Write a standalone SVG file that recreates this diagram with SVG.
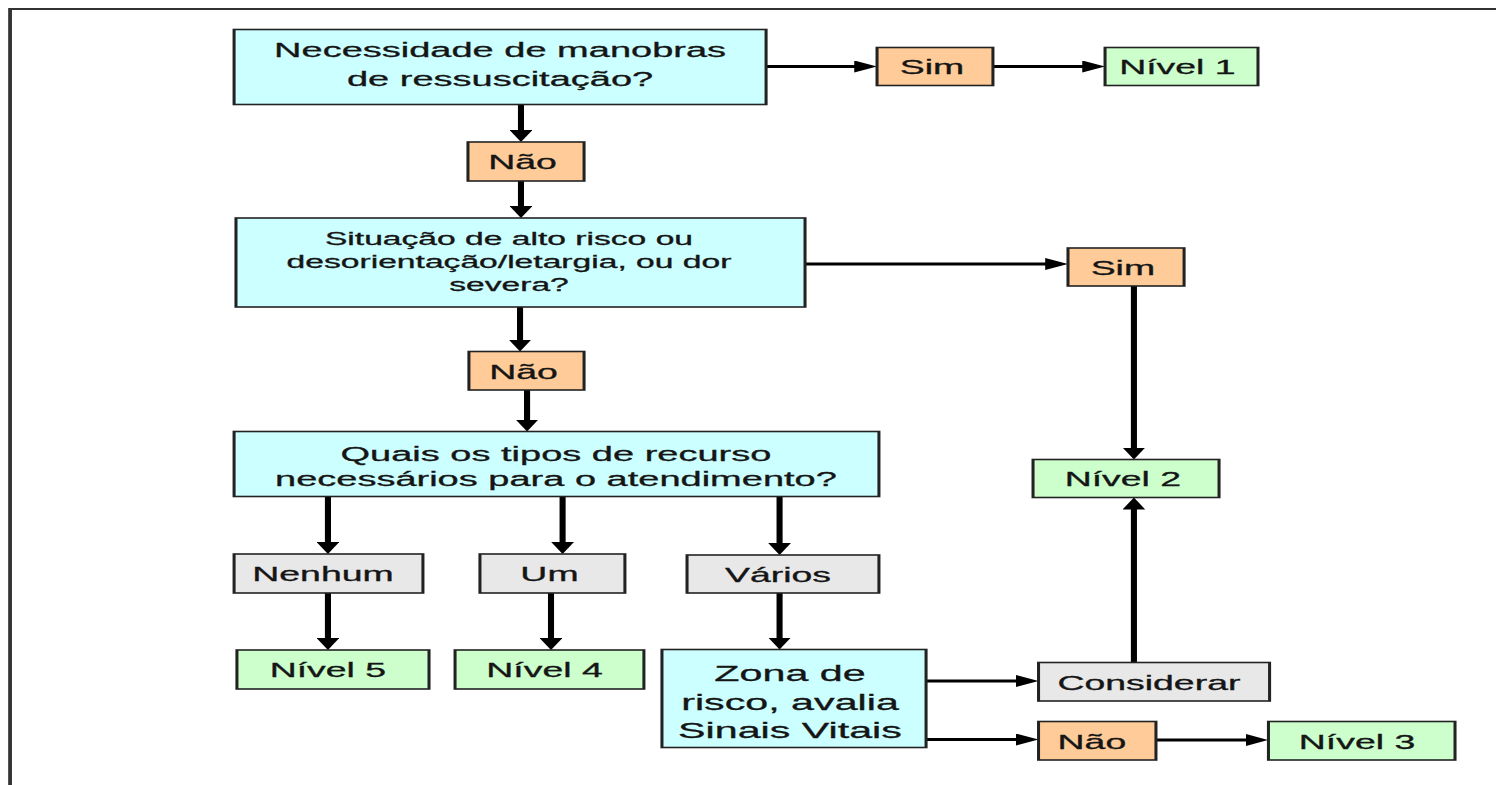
<svg xmlns="http://www.w3.org/2000/svg" width="1496" height="785" viewBox="0 0 1496 785">
<defs>
<marker id="ah" markerUnits="userSpaceOnUse" markerWidth="12" markerHeight="12" viewBox="0 0 12 12" refX="7" refY="6" orient="auto">
<path d="M0,0 L12,6 L0,12 z" fill="#000"/>
</marker>
<style>
.q{fill:#CCFFFF;stroke:#222;stroke-width:1.6}
.o{fill:#FFCC99;stroke:#222;stroke-width:1.6}
.g{fill:#CCFFCC;stroke:#222;stroke-width:1.6}
.n{fill:#E8E8E8;stroke:#222;stroke-width:1.6}
text{font-family:"Liberation Sans",Arial,sans-serif;fill:#151515;stroke:#151515;stroke-width:0.3;text-anchor:middle}
.t20{font-size:20px}
.t18{font-size:17.7px}
.t22{font-size:21.7px}
.tl{font-size:19.7px}
.c{stroke:#000;stroke-width:3.2;fill:none;marker-end:url(#ah)}
</style>
</defs>
<rect x="0" y="0" width="1496" height="785" fill="#fff"/>
<g transform="scale(1.9,1)">
<path id="frame" d="M5.3,790 V9 H800" fill="none" stroke="#333" stroke-width="2"/>
<g id="connectors">
<path class="c" d="M274.2,104.5 V137"/>
<path class="c" d="M274.2,181 V213"/>
<path class="c" d="M273.7,307 V346.5"/>
<path class="c" d="M277.4,390 V426.5"/>
<path class="c" d="M172.6,496.5 V549"/>
<path class="c" d="M296.1,496.5 V549"/>
<path class="c" d="M410.3,496.5 V550"/>
<path class="c" d="M172.6,593 V645"/>
<path class="c" d="M290,593 V645"/>
<path class="c" d="M410.3,593 V644.5"/>
<path class="c" d="M403.2,66.5 H456.6"/>
<path class="c" d="M522.6,66.5 H576.6"/>
<path class="c" d="M423.7,264 H557.1"/>
<path class="c" d="M596.8,286 V454.5"/>
<path class="c" d="M596.8,662.5 V502.5"/>
<path class="c" d="M487.4,681 H541.6"/>
<path class="c" d="M487.4,739.5 H541.6"/>
<path class="c" d="M608.4,740 H662.6"/>
</g>
<g id="q1"><rect class="q" x="123.2" y="29.5" width="280" height="75"/>
<text class="t20" x="263.2" y="57">Necessidade de manobras</text>
<text class="t20" x="263.2" y="86">de ressuscitação?</text></g>
<g id="nao1"><rect class="o" x="246.3" y="142" width="61.1" height="39"/>
<text class="tl" x="275" y="169.5">Não</text></g>
<g id="sim1"><rect class="o" x="461.6" y="47.5" width="61" height="38"/>
<text class="tl" x="490.5" y="74.5">Sim</text></g>
<g id="nivel1"><rect class="g" x="581.6" y="47.5" width="80.5" height="38"/>
<text class="tl" x="619.7" y="74.5">Nível 1</text></g>
<g id="q2"><rect class="q" x="124.2" y="218" width="299.5" height="89"/>
<text class="t18" x="267.9" y="245.5">Situação de alto risco ou</text>
<text class="t18" x="267.9" y="268.5">desorientação/letargia, ou dor</text>
<text class="t18" x="267.9" y="291.5">severa?</text></g>
<g id="sim2"><rect class="o" x="562.1" y="248" width="61.1" height="38"/>
<text class="tl" x="591" y="275">Sim</text></g>
<g id="nao2"><rect class="o" x="246.8" y="351.5" width="60.6" height="38.5"/>
<text class="tl" x="275.5" y="378.7">Não</text></g>
<g id="nivel2"><rect class="g" x="543.7" y="459.5" width="97.9" height="38"/>
<text class="tl" x="591" y="486.5">Nível 2</text></g>
<g id="q3"><rect class="q" x="123.2" y="431.5" width="339.4" height="65"/>
<text class="t20" x="292.6" y="461.5">Quais os tipos de recurso</text>
<text class="t20" x="292.6" y="486">necessários para o atendimento?</text></g>
<g id="nenhum"><rect class="n" x="123.2" y="554" width="99.4" height="39"/>
<text class="tl" x="170" y="581.5">Nenhum</text></g>
<g id="um"><rect class="n" x="252.6" y="554" width="76.3" height="39"/>
<text class="tl" x="289.2" y="581.5">Um</text></g>
<g id="varios"><rect class="n" x="361.6" y="555" width="101" height="38"/>
<text class="tl" x="409.5" y="582">Vários</text></g>
<g id="nivel5"><rect class="g" x="124.7" y="650" width="101.1" height="39"/>
<text class="tl" x="172.6" y="677.5">Nível 5</text></g>
<g id="nivel4"><rect class="g" x="239.5" y="650" width="99.4" height="39"/>
<text class="tl" x="286.6" y="677.5">Nível 4</text></g>
<g id="zona"><rect class="q" x="348.4" y="649.5" width="139" height="98"/>
<text class="t22" x="415.8" y="681.5">Zona de</text>
<text class="t22" x="415.8" y="710">risco, avalia</text>
<text class="t22" x="415.8" y="738.5">Sinais Vitais</text></g>
<g id="considerar"><rect class="n" x="546.6" y="662.5" width="121.6" height="38.5"/>
<text class="tl" x="604.7" y="690">Considerar</text></g>
<g id="nao3"><rect class="o" x="546.6" y="721.5" width="61.8" height="38.5"/>
<text class="tl" x="574.7" y="748.7">Não</text></g>
<g id="nivel3"><rect class="g" x="667.6" y="721.5" width="98.2" height="38.5"/>
<text class="tl" x="714.2" y="748.7">Nível 3</text></g>
</g>
</svg>
